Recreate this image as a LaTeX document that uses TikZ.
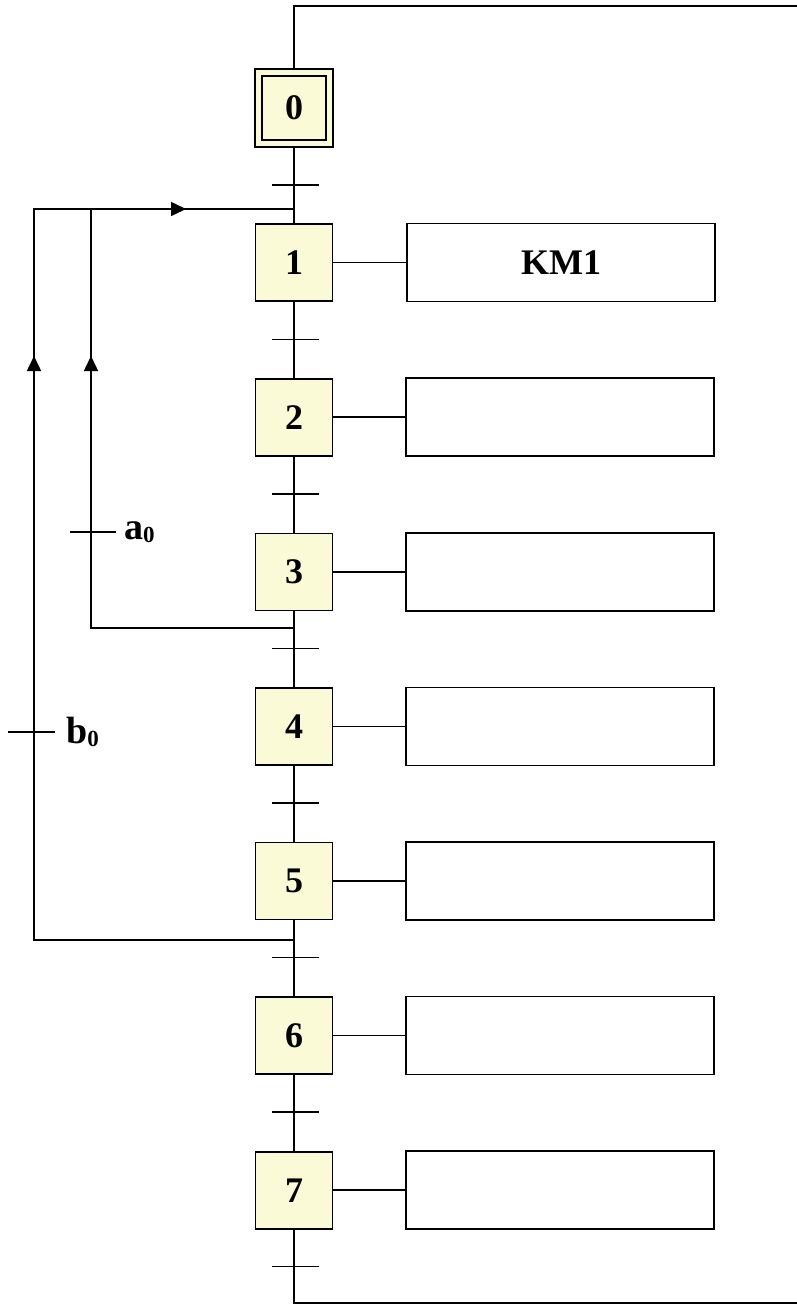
\documentclass[tikz,border=0pt]{standalone}
\usepackage{fontspec}
\setmainfont{Liberation Serif}
\usetikzlibrary{arrows.meta}
\definecolor{stepfill}{RGB}{250,250,214}
\tikzset{
  ln/.style={line width=1.6pt, line cap=rect},
  stepbox/.style={draw, line width=1.6pt, fill=stepfill, minimum width=77pt, minimum height=77pt, inner sep=0pt, font=\fontsize{36}{36}\selectfont\bfseries},
  actbox/.style={draw, line width=1.6pt, fill=white, minimum width=308pt, minimum height=78pt, inner sep=0pt, font=\fontsize{36}{36}\selectfont\bfseries},
  tick/.style={line width=1.6pt},
  arr/.style={-{Triangle[length=15pt,width=14pt]}, line width=1.6pt},
  lbl/.style={anchor=west, inner sep=0pt, font=\fontsize{38}{38}\selectfont\bfseries}
}
\begin{document}
\begin{tikzpicture}[x=1pt,y=-1pt]
\useasboundingbox (0,0) rectangle (797,1306);
% steps
\node[stepbox, minimum width=78pt, minimum height=78pt] (s0) at (294,108) {0};
\draw[line width=1.6pt] ([shift={(8pt,-8pt)}]s0.north west) rectangle ([shift={(-8pt,8pt)}]s0.south east);
\foreach \k in {1,...,7} {
  \node[stepbox] (s\k) at (294,{108+154.6*\k}) {\k};
}
% actions
\node[actbox] (a1) at (561,{108+154.6}) {KM1};
\foreach \k in {2,...,7} {
  \node[actbox] (a\k) at (560,{108+154.6*\k}) {};
}
\foreach \k in {1,...,7} {
  \draw[ln] (s\k.east) -- (a\k.west);
}
% main vertical
\coordinate (ctop) at (294,6);
\coordinate (ctopR) at (797,6);
\coordinate (cbot) at (294,1303);
\coordinate (cbotR) at (797,1303);
\draw[ln] (s0.north) -- (ctop) -- (ctopR);
\foreach \k [evaluate=\k as \n using int(\k+1)] in {0,...,6} {
  \draw[ln] (s\k.south) -- (s\n.north);
}
\draw[ln] (s7.south) -- (cbot) -- (cbotR);
% transitions
\foreach \k in {0,...,7} {
  \draw[tick] (272,{185+154.5*\k}) -- (319,{185+154.5*\k});
}
% return branches
\coordinate (jtop) at (294,209);
\coordinate (ja) at (294,628);
\coordinate (jb) at (294,940);
\coordinate (ca) at (91,628);
\coordinate (cb) at (34,940);
\coordinate (ta) at (91,209);
\coordinate (tb) at (34,209);
\draw[ln] (ja) -- (ca) -- (ta) -- (jtop);
\draw[ln] (jb) -- (cb) -- (tb) -- (ta);
\draw[arr] (91,400) -- (91,356);
\draw[arr] (34,400) -- (34,356);
\draw[arr] (140,209) -- (186,209);
% receptivities
\draw[tick] (70,532) -- (116,532);
\node[lbl] (la) at (124,532) {a\raisebox{-3pt}{\fontsize{23}{23}\selectfont 0}};
\draw[tick] (8,732) -- (55,732);
\node[lbl] (lb) at (66,732) {b\raisebox{-3pt}{\fontsize{23}{23}\selectfont 0}};
\end{tikzpicture}
\end{document}
